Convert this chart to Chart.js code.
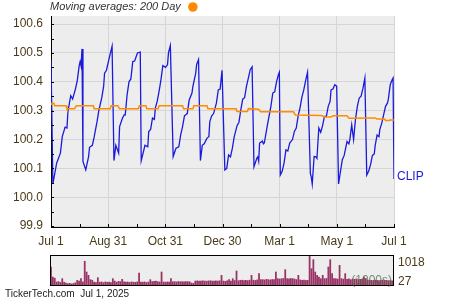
<!DOCTYPE html>
<html><head><meta charset="utf-8">
<script src="https://cdn.jsdelivr.net/npm/chart.js@4.4.1/dist/chart.umd.min.js"></script>
<style>
html,body{margin:0;padding:0;background:#fff;width:450px;height:300px;overflow:hidden}
#main{position:absolute;left:0;top:0}
#vol{position:absolute;left:0;top:250px}
</style></head><body>
<canvas id="main" width="450" height="250"></canvas>
<canvas id="vol" width="450" height="50"></canvas>
<script>
const FONT = 'Arial, "Liberation Sans", sans-serif';
const LABEL_COLOR = '#4a3a1a';

// Price series (days since Jul 1, 2024)
const priceDays = [0,2,6,10,12,15,17,18,21,23,26,28,30,31,32,33,34,37,40,41,44,46,49,51,54,56,57,59,62,65,67,69,72,73,76,78,79,81,83,85,87,89,92,95,96,98,100,103,104,106,108,110,111,113,115,117,119,122,124,125,127,130,133,136,138,140,142,145,147,150,151,154,155,157,159,161,163,166,168,169,171,173,176,178,180,182,185,187,189,191,193,195,198,200,202,204,206,208,210,212,214,216,219,220,221,222,225,226,227,230,232,234,236,238,240,242,243,244,246,248,250,252,254,257,259,261,263,265,267,269,271,273,276,277,278,280,282,283,285,287,289,291,293,295,297,298,300,302,304,306,308,310,312,315,317,318,320,322,324,326,328,330,332,334,336,338,340,342,344,345,347,349,350,352,354,356,358,359,361,363,364,365];
const priceValues = [100.477,100.046,100.118,100.153,100.21,100.243,100.24,100.297,100.352,100.34,100.375,100.405,100.456,100.47,100.455,100.514,100.124,100.095,100.141,100.173,100.18,100.21,100.262,100.303,100.344,100.384,100.43,100.44,100.483,100.523,100.127,100.18,100.153,100.245,100.274,100.286,100.285,100.355,100.40,100.41,100.47,100.472,100.5,100.503,100.127,100.153,100.18,100.175,100.228,100.235,100.274,100.27,100.309,100.332,100.367,100.407,100.456,100.45,100.46,100.5,100.525,100.141,100.17,100.175,100.216,100.245,100.282,100.29,100.336,100.361,100.384,100.43,100.46,100.477,100.127,100.18,100.185,100.205,100.21,100.262,100.282,100.29,100.326,100.372,100.375,100.44,100.095,100.10,100.147,100.14,100.17,100.21,100.248,100.26,100.303,100.34,100.345,100.384,100.413,100.442,100.452,100.106,100.135,100.14,100.125,100.188,100.195,100.185,100.188,100.245,100.28,100.315,100.361,100.365,100.40,100.425,100.433,100.077,100.09,100.118,100.164,100.16,100.188,100.2,100.228,100.24,100.282,100.31,100.347,100.372,100.405,100.433,100.083,100.07,100.046,100.141,100.14,100.135,100.24,100.225,100.248,100.28,100.28,100.315,100.332,100.372,100.375,100.39,100.385,100.046,100.089,100.13,100.145,100.193,100.185,100.2,100.251,100.2,100.27,100.315,100.344,100.35,100.378,100.413,100.077,100.09,100.112,100.145,100.15,100.18,100.216,100.21,100.236,100.257,100.286,100.315,100.326,100.34,100.39,100.407,100.413,100.063];

// 200 day moving average
const maDays = [0,1,3,4,16,17,25,27,45,46,63,64,71,73,93,94,101,102,114,115,140,141,151,152,166,167,197,198,209,210,221,223,258,260,288,291,298,300,315,317,345,347,355,356,360,361,365];
const maValues = [100.322,100.326,100.326,100.317,100.317,100.307,100.307,100.317,100.317,100.307,100.307,100.317,100.317,100.307,100.307,100.317,100.317,100.307,100.307,100.317,100.317,100.307,100.307,100.317,100.317,100.307,100.307,100.297,100.297,100.307,100.305,100.296,100.296,100.285,100.283,100.278,100.278,100.282,100.282,100.274,100.275,100.271,100.271,100.266,100.266,100.268,100.268];

// Axis labels
const xTickLabels = ['Jul 1','Aug 31','Oct 31','Dec 30','Mar 1','May 1','Jul 1'];
const yTickValues = [99.9,100.0,100.1,100.2,100.3,100.4,100.5,100.6];

// Volume (thousands), one bar every two days
const volValues = [644,290,250,117,130,100,234,110,80,58,70,50,65,90,175,150,234,120,842,468,351,199,180,117,100,269,110,117,95,120,105,117,100,234,150,110,140,130,210,120,110,117,100,120,110,105,120,433,117,110,120,100,117,199,130,140,150,130,120,468,117,110,120,110,234,125,130,120,135,125,130,120,135,130,125,80,70,150,155,145,150,160,150,145,155,160,150,145,155,150,160,351,150,140,160,199,150,234,170,503,160,175,180,170,175,165,180,351,180,170,190,410,200,199,190,210,199,190,205,199,468,234,220,234,240,550,234,230,240,234,220,200,351,190,175,180,170,175,1018,585,900,468,351,290,234,351,234,240,644,900,410,234,234,220,702,234,220,410,210,230,199,220,210,230,199,210,220,290,240,175,180,175,170,180,175,165,175,180,170,175,165,170,160];
const volDays = volValues.map((v, i) => i * 2);
const volLabels = ['1018', '27'];
const volUnit = '(1000s)';

const symbol = 'CLIP';
const legendText = 'Moving averages: 200 Day';
const footerText = 'TickerTech.com  Jul 1, 2025';

const BLUE = '#1a1adc';
const ORANGE = '#ff8c00';

const xTicks = Array.from({length: 13}, (_, k) => 365 * k / 12);
const yTicksAll = [];
yTickValues.forEach((v, i) => { yTicksAll.push(v); if (i < yTickValues.length - 1) yTicksAll.push(+(v + 0.05).toFixed(2)); });

const plotBg = {
  id: 'plotBg',
  beforeDraw(chart) {
    const {ctx, chartArea: a} = chart;
    ctx.save(); ctx.fillStyle = '#ededed';
    ctx.fillRect(a.left, a.top, a.right - a.left, a.bottom - a.top);
    ctx.restore();
  }
};

const mainDeco = {
  id: 'mainDeco',
  afterDraw(chart) {
    const {ctx, chartArea: a, scales: {x, y}} = chart;
    ctx.save();
    ctx.strokeStyle = '#000'; ctx.lineWidth = 1; ctx.beginPath();
    x.ticks.forEach(t => { const px = Math.round(x.getPixelForValue(t.value)) + 0.5; ctx.moveTo(px, a.bottom); ctx.lineTo(px, a.bottom - 3); });
    y.ticks.forEach(t => { const py = Math.round(y.getPixelForValue(t.value)) + 0.5; ctx.moveTo(a.left, py); ctx.lineTo(a.left + 3, py); });
    ctx.stroke();
    // legend
    ctx.font = 'italic 11px ' + FONT;
    ctx.fillStyle = '#333'; ctx.textBaseline = 'middle'; ctx.textAlign = 'left';
    ctx.fillText(legendText, 50, 7);
    const w = ctx.measureText(legendText).width;
    ctx.beginPath(); ctx.fillStyle = ORANGE;
    ctx.arc(50 + w + 12, 7, 4.8, 0, Math.PI * 2); ctx.fill();
    // symbol label at last price
    const lastY = y.getPixelForValue(priceValues[priceValues.length - 1]);
    ctx.font = '12px ' + FONT; ctx.fillStyle = BLUE;
    ctx.fillText(symbol, a.right + 3, lastY - 2);
    ctx.restore();
  }
};

new Chart(document.getElementById('main'), {
  type: 'line',
  data: {
    datasets: [
      {data: maDays.map((d, i) => ({x: d, y: maValues[i]})), borderColor: ORANGE, borderWidth: 1.5, pointRadius: 0, tension: 0, order: 0},
      {data: priceDays.map((d, i) => ({x: d, y: priceValues[i]})), borderColor: BLUE, borderWidth: 1.3, pointRadius: 0, tension: 0, order: 1}
    ]
  },
  options: {
    responsive: false, animation: false, events: [],
    layout: {padding: {left: 0, right: 56, top: 16, bottom: 0}},
    plugins: {legend: {display: false}, tooltip: {enabled: false}},
    scales: {
      x: {
        type: 'linear', min: 0, max: 365,
        afterBuildTicks: s => { s.ticks = xTicks.map(v => ({value: v})); },
        afterFit: s => { s.height = 23; },
        grid: {color: c => (c.index % 2 === 0 ? '#d6d6d6' : 'rgba(0,0,0,0)'), drawTicks: false, lineWidth: 1},
        border: {color: '#000', width: 1},
        ticks: {autoSkip: false, maxRotation: 0, padding: 7, color: LABEL_COLOR, font: {family: FONT, size: 12},
          callback: (v, i) => (i % 2 === 0 ? xTickLabels[i / 2] : '')}
      },
      y: {
        min: 99.897, max: 100.628,
        afterBuildTicks: s => { s.ticks = yTicksAll.map(v => ({value: v})); },
        afterFit: s => { s.width = 51; },
        grid: {color: c => (c.index % 2 === 0 ? '#d6d6d6' : 'rgba(0,0,0,0)'), drawTicks: false, lineWidth: 1},
        border: {color: '#000', width: 1},
        ticks: {autoSkip: false, padding: 8, color: LABEL_COLOR, font: {family: FONT, size: 12},
          callback: (v, i) => (i % 2 === 0 ? yTickValues[i / 2].toFixed(1) : '')}
      }
    }
  },
  plugins: [plotBg, mainDeco]
});

const volDeco = {
  id: 'volDeco',
  afterDraw(chart) {
    const {ctx, chartArea: a} = chart;
    ctx.save();
    ctx.strokeStyle = '#000'; ctx.lineWidth = 1;
    ctx.strokeRect(Math.round(a.left) - 0.5, Math.round(a.top) - 0.5, Math.round(a.right - a.left) + 1, Math.round(a.bottom - a.top) + 1);
    ctx.font = '12px ' + FONT; ctx.textBaseline = 'middle'; ctx.textAlign = 'left';
    ctx.fillStyle = LABEL_COLOR;
    ctx.fillText(volLabels[0], a.right + 5, a.top + 7);
    ctx.fillText(volLabels[1], a.right + 5, a.bottom - 3);
    ctx.fillStyle = 'rgba(70,110,70,0.75)'; ctx.textAlign = 'right';
    ctx.fillText(volUnit, a.right - 1, a.bottom - 4);
    ctx.font = '10px ' + FONT; ctx.fillStyle = '#222'; ctx.textAlign = 'left';
    ctx.fillText(footerText, 5, 44);
    ctx.restore();
  }
};

new Chart(document.getElementById('vol'), {
  type: 'bar',
  data: {datasets: [{data: volDays.map((d, i) => ({x: d, y: volValues[i]})), backgroundColor: '#993366', borderWidth: 0, barPercentage: 1, categoryPercentage: 0.95}]},
  options: {
    responsive: false, animation: false, events: [],
    layout: {padding: {left: 51, right: 57, top: 6, bottom: 15}},
    plugins: {legend: {display: false}, tooltip: {enabled: false}},
    scales: {
      x: {type: 'linear', min: 0, max: 365, display: false, offset: false},
      y: {min: 0, max: 1018, display: false}
    }
  },
  plugins: [plotBg, volDeco]
});
</script>
</body></html>
